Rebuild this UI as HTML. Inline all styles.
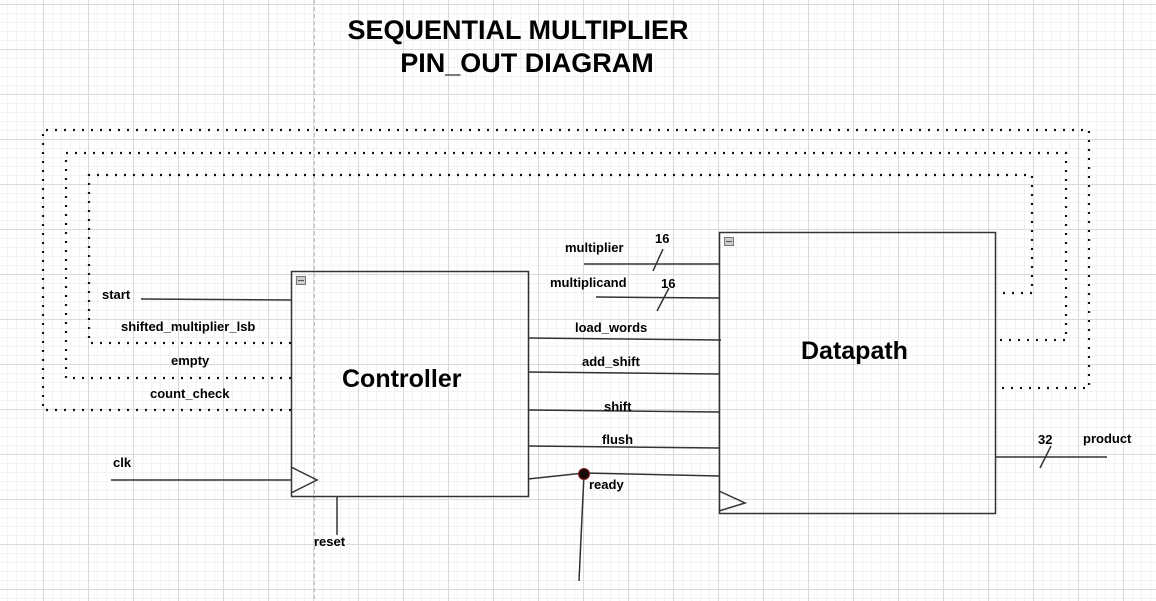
<!DOCTYPE html>
<html><head><meta charset="utf-8"><style>
html,body{margin:0;padding:0;background:#fff;width:1156px;height:601px;overflow:hidden}
svg{display:block;font-family:"Liberation Sans",Arial,sans-serif;font-weight:bold}
</style></head><body>
<svg width="1156" height="601" viewBox="0 0 1156 601" xmlns="http://www.w3.org/2000/svg">
<defs>
<pattern id="minor" x="7" y="4" width="9" height="9" patternUnits="userSpaceOnUse">
<path d="M0.5 0V9M0 0.5H9" stroke="#f2f2f2" stroke-width="1" fill="none"/>
</pattern>
<pattern id="major" x="43" y="4" width="45" height="45" patternUnits="userSpaceOnUse">
<path d="M0.5 0V45M0 0.5H45" stroke="#dadada" stroke-width="1" fill="none"/>
</pattern>
</defs>
<rect width="1156" height="601" fill="#fff"/>
<rect width="1156" height="601" fill="url(#minor)"/>
<rect width="1156" height="601" fill="url(#major)"/>
<line x1="314.5" y1="0" x2="314.5" y2="601" stroke="#c0c0c0" stroke-dasharray="4 3"/>

<text x="518" y="39" font-size="27" text-anchor="middle">SEQUENTIAL MULTIPLIER</text>
<text x="527" y="72" font-size="27" text-anchor="middle">PIN_OUT DIAGRAM</text>

<g fill="none" stroke="#111" stroke-width="2.2" stroke-dasharray="2 7">
<path d="M291 410H43V130H1089V388H995"/>
<path d="M291 378H66V153H1066V340H995"/>
<path d="M291 343H89V175H1032V293H995"/>
</g>

<g stroke="#333" stroke-width="1.5" fill="none">
<rect x="291.5" y="271.5" width="237" height="225"/>
<rect x="719.5" y="232.5" width="276" height="281"/>
<path d="M291 467L317 480L291 493"/>
<path d="M719 491L745 503L719 511"/>
<line x1="141" y1="299" x2="291" y2="300"/>
<line x1="111" y1="480" x2="291" y2="480"/>
<line x1="337" y1="496" x2="337" y2="535"/>
<line x1="584" y1="264" x2="719" y2="264"/>
<line x1="596" y1="297" x2="719" y2="298"/>
<line x1="528" y1="338" x2="721" y2="340"/>
<line x1="528" y1="372" x2="719" y2="374"/>
<line x1="528" y1="410" x2="719" y2="412"/>
<line x1="528" y1="446" x2="719" y2="448"/>
<path d="M528 479L584 473L719 476"/>
<line x1="584" y1="474" x2="579" y2="581"/>
<line x1="995" y1="457" x2="1107" y2="457"/>
<line x1="663" y1="249" x2="653" y2="271"/>
<line x1="669" y1="288" x2="657" y2="311"/>
<line x1="1051" y1="446" x2="1040" y2="468"/>
</g>
<circle cx="584" cy="474" r="5.5" fill="#1a0a0a" stroke="#8b1a1a" stroke-width="1"/>

<g fill="#ccc" stroke="#777" stroke-width="1">
<rect x="296.5" y="276.5" width="9" height="8"/>
<rect x="724.5" y="237.5" width="9" height="8"/>
</g>
<g stroke="#555"><line x1="298" y1="280.5" x2="304" y2="280.5"/><line x1="726" y1="241.5" x2="732" y2="241.5"/></g>

<g font-size="13">
<text x="102" y="299">start</text>
<text x="121" y="331">shifted_multiplier_lsb</text>
<text x="171" y="365">empty</text>
<text x="150" y="398">count_check</text>
<text x="113" y="467">clk</text>
<text x="314" y="546">reset</text>
<text x="565" y="252">multiplier</text>
<text x="550" y="287">multiplicand</text>
<text x="655" y="243">16</text>
<text x="661" y="288">16</text>
<text x="575" y="332">load_words</text>
<text x="582" y="366">add_shift</text>
<text x="604" y="411">shift</text>
<text x="602" y="444">flush</text>
<text x="589" y="489">ready</text>
<text x="1038" y="444">32</text>
<text x="1083" y="443">product</text>
</g>
<text x="342" y="387" font-size="25">Controller</text>
<text x="801" y="359" font-size="25">Datapath</text>
</svg>
</body></html>
